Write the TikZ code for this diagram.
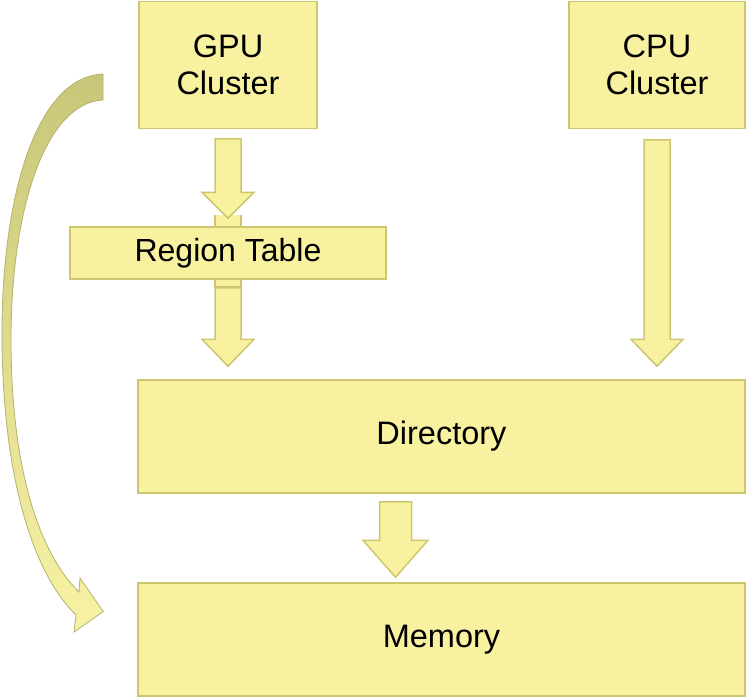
\documentclass[tikz,border=0pt]{standalone}
\usepackage{fontspec}
\setmainfont{Liberation Sans}
\usetikzlibrary{calc}
\definecolor{boxfill}{RGB}{248,242,160}
\definecolor{boxline}{RGB}{205,198,110}
\definecolor{arrtop}{RGB}{200,198,120}
\definecolor{arrbot}{RGB}{248,242,165}
\tikzset{
  boxnode/.style={draw=boxline, fill=boxfill, line width=1.5pt, inner sep=0pt, align=center, font=\fontsize{32.5}{37}\selectfont},
  barrow/.style={draw=boxline, fill=boxfill, line width=1.5pt, line join=miter},
}
% #1 start, #2 tip, #3 shaft half width, #4 head half width, #5 head length
\newcommand{\blockarrow}[5]{%
  \draw[barrow] let \p1=(#1), \p2=(#2) in
    (\x1-#3,\y1) -- (\x1+#3,\y1) -- (\x1+#3,\y2+#5) -- (\x1+#4,\y2+#5) -- (\x1,\y2)
    -- (\x1-#4,\y2+#5) -- (\x1-#3,\y2+#5) -- cycle;}
\begin{document}
\begin{tikzpicture}[x=1pt,y=-1pt]
\useasboundingbox (0,0) rectangle (747,697);
% nodes
\node[boxnode, minimum width=178pt, minimum height=127pt] (gpu) at (228,65) {GPU\\Cluster};
\node[boxnode, minimum width=176pt, minimum height=127pt] (cpu) at (657,65) {CPU\\Cluster};
\node[boxnode, minimum width=607pt, minimum height=113pt] (dir) at (441.5,436.5) {Directory};
\node[boxnode, minimum width=607pt, minimum height=113pt] (mem) at (441.5,639.5) {Memory};
% shaft piece behind the region table
\fill[boxfill] (215,215) rectangle (241,287);
\draw[boxline, line width=1.5pt] (215,215) -- (215,287) -- (241,287) -- (241,215);
\node[boxnode, minimum width=316pt, minimum height=52pt, font=\fontsize{32}{36}\selectfont] (rt) at (228,253) {Region Table};
% block arrows
\coordinate (a1s) at ($(gpu.south)+(0,9.5)$);
\coordinate (a1e) at ($(rt.north)+(0,-8)$);
\blockarrow{a1s}{a1e}{13}{26}{26}
\coordinate (a2s) at ($(rt.south)+(0,8)$);
\coordinate (a2e) at ($(rt.south |- dir.north)+(0,-13)$);
\blockarrow{a2s}{a2e}{13}{26}{27}
\coordinate (a3s) at ($(cpu.south)+(0,10.5)$);
\coordinate (a3e) at ($(cpu.south |- dir.north)+(0,-13)$);
\blockarrow{a3s}{a3e}{13}{26}{27}
\coordinate (a4s) at ($(dir.south)+(-46,8)$);
\coordinate (a4e) at ($(mem.north)+(-46,-5)$);
\blockarrow{a4s}{a4e}{16}{32.5}{37}
% curved arrow from GPU cluster to memory
\coordinate (cs) at (103,100);
\coordinate (ce) at ($(mem.west)+(-34,-28)$);
\shade[top color=arrtop, bottom color=arrbot, draw=arrtop!90!black, line width=0.8pt]
  (cs) ++(0,-26) .. controls (35,77) and (1,200) .. (2,340)
  .. controls (3,470) and (30,570) .. (76,615) -- (74,632) -- (ce) -- (80,578) -- (79,592)
  .. controls (36,550) and (11,460) .. (11,340)
  .. controls (11,210) and (45,103) .. (cs) -- cycle;
\end{tikzpicture}
\end{document}
